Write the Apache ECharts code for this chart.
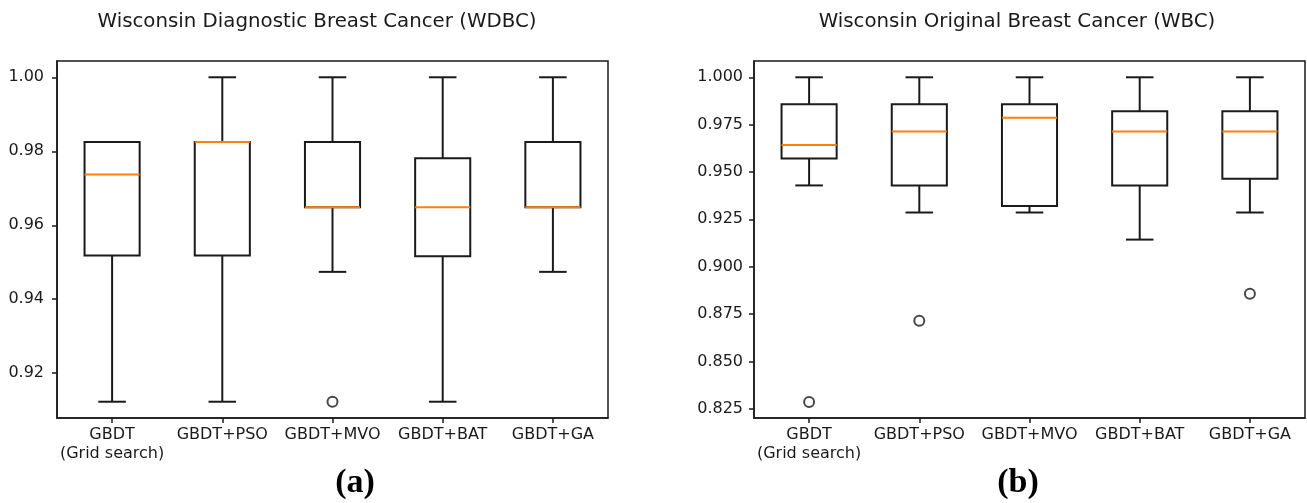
<!DOCTYPE html>
<html>
<head>
<meta charset="utf-8">
<script src="https://cdn.jsdelivr.net/npm/echarts@6/dist/echarts.min.js"></script>
<style>
html,body{margin:0;padding:0;background:#fff;}
#c{width:1307px;height:503px;}
</style>
</head>
<body>
<div id="c"></div>
<script>
// ---- data ----
const categories = ['GBDT\n(Grid search)', 'GBDT+PSO', 'GBDT+MVO', 'GBDT+BAT', 'GBDT+GA'];
const titleA = 'Wisconsin Diagnostic Breast Cancer (WDBC)';
const titleB = 'Wisconsin Original Breast Cancer (WBC)';
// [lower whisker, Q1, median, Q3, upper whisker]
const wdbcStats = [
  [0.9123, 0.9518, 0.9737, 0.9825, 0.9825],
  [0.9123, 0.9518, 0.9825, 0.9825, 1.0000],
  [0.9474, 0.9649, 0.9649, 0.9825, 1.0000],
  [0.9123, 0.9516, 0.9649, 0.9781, 1.0000],
  [0.9474, 0.9649, 0.9649, 0.9825, 1.0000]
];
const wdbcOutliers = [[2, 0.9123]];
const wbcStats = [
  [0.9429, 0.9571, 0.9643, 0.9857, 1.0000],
  [0.9286, 0.9429, 0.9714, 0.9857, 1.0000],
  [0.9286, 0.9321, 0.9786, 0.9857, 1.0000],
  [0.9143, 0.9429, 0.9714, 0.9821, 1.0000],
  [0.9286, 0.9464, 0.9714, 0.9821, 1.0000]
];
const wbcOutliers = [[0, 0.8286], [1, 0.8714], [4, 0.8857]];
const yTicksA = [0.92, 0.94, 0.96, 0.98, 1.00];
const yTicksB = [0.825, 0.850, 0.875, 0.900, 0.925, 0.950, 0.975, 1.000];
const yRangeA = [0.9079, 1.0044];
const yRangeB = [0.8201, 1.0086];

// ---- chart ----
const chart = echarts.init(document.getElementById('c'), null, {renderer: 'canvas'});
const FONT = 'DejaVu Sans';
const INK = '#1a1a1a';
const LW = 2;

function boxItem(params, api) {
  const x = api.value(0);
  const lo = api.coord([x, api.value(1)]);
  const q1 = api.coord([x, api.value(2)]);
  const md = api.coord([x, api.value(3)]);
  const q3 = api.coord([x, api.value(4)]);
  const hi = api.coord([x, api.value(5)]);
  const band = api.size([1, 0])[0];
  const bw = band * 0.5, cw = band * 0.25;
  const cx = lo[0];
  const ls = {stroke: INK, lineWidth: LW, fill: null};
  return {
    type: 'group',
    children: [
      {type: 'line', shape: {x1: cx, y1: q1[1], x2: cx, y2: lo[1]}, style: ls},
      {type: 'line', shape: {x1: cx, y1: q3[1], x2: cx, y2: hi[1]}, style: ls},
      {type: 'line', shape: {x1: cx - cw / 2, y1: lo[1], x2: cx + cw / 2, y2: lo[1]}, style: ls},
      {type: 'line', shape: {x1: cx - cw / 2, y1: hi[1], x2: cx + cw / 2, y2: hi[1]}, style: ls},
      {type: 'rect', shape: {x: cx - bw / 2, y: q3[1], width: bw, height: q1[1] - q3[1]}, style: {stroke: INK, lineWidth: LW, fill: 'none'}},
      {type: 'line', shape: {x1: cx - bw / 2, y1: md[1], x2: cx + bw / 2, y2: md[1]}, style: {stroke: '#ff7f0e', lineWidth: LW}}
    ]
  };
}

function toBoxData(stats) {
  return stats.map((s, i) => [i].concat(s));
}

function xAxisCfg(gi) {
  return {
    type: 'category', gridIndex: gi, data: categories,
    boundaryGap: true,
    axisLine: {show: true, lineStyle: {color: INK, width: 1.5}},
    axisTick: {show: true, alignWithLabel: true, length: 5, lineStyle: {color: INK, width: 1.5}},
    axisLabel: {color: INK, fontFamily: FONT, fontSize: 16, lineHeight: 19, margin: 7, interval: 0},
    splitLine: {show: false}
  };
}

function yAxisCfg(gi, range, ticks, digits, margin) {
  return {
    type: 'value', gridIndex: gi, min: range[0], max: range[1],
    axisLine: {show: true, lineStyle: {color: INK, width: 1.5}},
    axisTick: {show: true, length: 5, customValues: ticks, lineStyle: {color: INK, width: 1.5}},
    axisLabel: {color: INK, fontFamily: FONT, fontSize: 16, margin: margin, customValues: ticks,
      formatter: v => v.toFixed(digits)},
    splitLine: {show: false}
  };
}

const option = {
  animation: false,
  backgroundColor: '#fff',
  grid: [
    {left: 57, top: 61, width: 551, height: 357, show: true, borderColor: INK, borderWidth: 1.5, backgroundColor: 'transparent'},
    {left: 754, top: 61, width: 551, height: 357, show: true, borderColor: INK, borderWidth: 1.5, backgroundColor: 'transparent'}
  ],
  xAxis: [xAxisCfg(0), xAxisCfg(1)],
  yAxis: [yAxisCfg(0, yRangeA, yTicksA, 2, 13), yAxisCfg(1, yRangeB, yTicksB, 3, 11)],
  series: [
    {type: 'custom', xAxisIndex: 0, yAxisIndex: 0, renderItem: boxItem, data: toBoxData(wdbcStats),
      encode: {x: 0, y: [1, 2, 3, 4, 5]}},
    {type: 'scatter', xAxisIndex: 0, yAxisIndex: 0, data: wdbcOutliers, symbol: 'circle', symbolSize: 10,
      itemStyle: {color: '#fff', borderColor: INK, borderWidth: 2}},
    {type: 'custom', xAxisIndex: 1, yAxisIndex: 1, renderItem: boxItem, data: toBoxData(wbcStats),
      encode: {x: 0, y: [1, 2, 3, 4, 5]}},
    {type: 'scatter', xAxisIndex: 1, yAxisIndex: 1, data: wbcOutliers, symbol: 'circle', symbolSize: 10,
      itemStyle: {color: '#fff', borderColor: INK, borderWidth: 2}}
  ],
  graphic: [
    {type: 'text', x: 317, y: 22, style: {text: titleA, font: '19.8px "DejaVu Sans"', fill: INK, align: 'center', verticalAlign: 'middle'}},
    {type: 'text', x: 1017, y: 22, style: {text: titleB, font: '19.8px "DejaVu Sans"', fill: INK, align: 'center', verticalAlign: 'middle'}},
    {type: 'text', x: 355, y: 483, style: {text: '(a)', font: 'bold 34px "Liberation Serif"', fill: '#000', align: 'center', verticalAlign: 'middle'}},
    {type: 'text', x: 1018, y: 483, style: {text: '(b)', font: 'bold 34px "Liberation Serif"', fill: '#000', align: 'center', verticalAlign: 'middle'}}
  ]
};
chart.setOption(option);
</script>
</body>
</html>
